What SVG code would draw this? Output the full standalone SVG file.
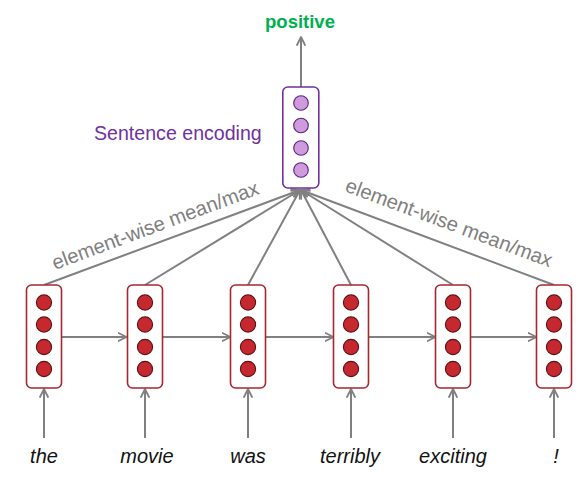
<svg xmlns="http://www.w3.org/2000/svg" width="588" height="484" viewBox="0 0 588 484">
<defs>
<marker id="ah" viewBox="0 0 10 10" refX="9" refY="5" markerWidth="10" markerHeight="10" markerUnits="userSpaceOnUse" orient="auto">
<path d="M1,1 L9,5 L1,9" fill="none" stroke="#808080" stroke-width="1.8" stroke-linecap="round" stroke-linejoin="round"/>
</marker>
<style>
.w{fill:none;stroke:#808080;stroke-width:2;}
.rb{fill:#fff;stroke:#A8262F;stroke-width:1.6;}
.rc{fill:#C6282F;stroke:#5E1014;stroke-width:1.1;}
.pb{fill:#fff;stroke:#7030A0;stroke-width:1.6;}
.pc{fill:#CF9BDC;stroke:#5A2580;stroke-width:1.1;}
.word{font-family:"Liberation Sans",Arial,sans-serif;font-style:italic;font-size:20px;fill:#111;text-anchor:middle;}
.lbl{font-family:"Liberation Sans",Arial,sans-serif;font-size:20.3px;fill:#808080;}
</style>
</defs>
<rect width="588" height="484" fill="#fff"/>
<g id="connectors">
<line class="w" x1="301" y1="87" x2="301" y2="37" marker-end="url(#ah)"/>
<line class="w" x1="44" y1="285" x2="300" y2="190" marker-end="url(#ah)"/>
<line class="w" x1="145" y1="285" x2="300" y2="190" marker-end="url(#ah)"/>
<line class="w" x1="248" y1="285" x2="300" y2="190" marker-end="url(#ah)"/>
<line class="w" x1="351" y1="285" x2="301" y2="190" marker-end="url(#ah)"/>
<line class="w" x1="453" y1="285" x2="301" y2="190" marker-end="url(#ah)"/>
<line class="w" x1="554" y1="285" x2="301" y2="190" marker-end="url(#ah)"/>
<line class="w" x1="61.5" y1="337" x2="126.5" y2="337" marker-end="url(#ah)"/>
<line class="w" x1="162.5" y1="337" x2="230.5" y2="337" marker-end="url(#ah)"/>
<line class="w" x1="265.5" y1="337" x2="333.5" y2="337" marker-end="url(#ah)"/>
<line class="w" x1="368.5" y1="337" x2="435.5" y2="337" marker-end="url(#ah)"/>
<line class="w" x1="470.5" y1="337" x2="536.5" y2="337" marker-end="url(#ah)"/>
<line class="w" x1="44" y1="438" x2="44" y2="389" marker-end="url(#ah)"/>
<line class="w" x1="145" y1="438" x2="145" y2="389" marker-end="url(#ah)"/>
<line class="w" x1="248" y1="438" x2="248" y2="389" marker-end="url(#ah)"/>
<line class="w" x1="351" y1="438" x2="351" y2="389" marker-end="url(#ah)"/>
<line class="w" x1="453" y1="438" x2="453" y2="389" marker-end="url(#ah)"/>
<line class="w" x1="554" y1="438" x2="554" y2="389" marker-end="url(#ah)"/>
</g>
<g id="labels">
<text x="300" y="28" font-family="Liberation Sans,Arial,sans-serif" font-weight="bold" font-size="18.5" fill="#00B050" text-anchor="middle">positive</text>
<text x="94" y="140" font-family="Liberation Sans,Arial,sans-serif" font-size="19.6" fill="#7030A0">Sentence encoding</text>
<text class="lbl" transform="translate(55,270) rotate(-20.4)" textLength="219">element-wise mean/max</text>
<text class="lbl" transform="translate(344,191) rotate(20.4)" textLength="219">element-wise mean/max</text>
</g>
<g id="sentence-encoding">
<rect class="pb" x="282.8" y="87" width="36" height="101" rx="5"/>
<circle class="pc" cx="301" cy="103" r="7.3"/>
<circle class="pc" cx="301" cy="125.5" r="7.3"/>
<circle class="pc" cx="301" cy="148" r="7.3"/>
<circle class="pc" cx="301" cy="170" r="7.3"/>
</g>
<g id="node-the">
<rect class="rb" x="26.5" y="285" width="35" height="103" rx="5"/>
<circle class="rc" cx="44" cy="302.5" r="7.6"/><circle class="rc" cx="44" cy="324.5" r="7.6"/><circle class="rc" cx="44" cy="347" r="7.6"/><circle class="rc" cx="44" cy="369" r="7.6"/>
<text class="word" x="44" y="463">the</text>
</g>
<g id="node-movie">
<rect class="rb" x="127.5" y="285" width="35" height="103" rx="5"/>
<circle class="rc" cx="145" cy="302.5" r="7.6"/><circle class="rc" cx="145" cy="324.5" r="7.6"/><circle class="rc" cx="145" cy="347" r="7.6"/><circle class="rc" cx="145" cy="369" r="7.6"/>
<text class="word" x="147" y="463">movie</text>
</g>
<g id="node-was">
<rect class="rb" x="230.5" y="285" width="35" height="103" rx="5"/>
<circle class="rc" cx="248" cy="302.5" r="7.6"/><circle class="rc" cx="248" cy="324.5" r="7.6"/><circle class="rc" cx="248" cy="347" r="7.6"/><circle class="rc" cx="248" cy="369" r="7.6"/>
<text class="word" x="248" y="463">was</text>
</g>
<g id="node-terribly">
<rect class="rb" x="333.5" y="285" width="35" height="103" rx="5"/>
<circle class="rc" cx="351" cy="302.5" r="7.6"/><circle class="rc" cx="351" cy="324.5" r="7.6"/><circle class="rc" cx="351" cy="347" r="7.6"/><circle class="rc" cx="351" cy="369" r="7.6"/>
<text class="word" x="350" y="463">terribly</text>
</g>
<g id="node-exciting">
<rect class="rb" x="435.5" y="285" width="35" height="103" rx="5"/>
<circle class="rc" cx="453" cy="302.5" r="7.6"/><circle class="rc" cx="453" cy="324.5" r="7.6"/><circle class="rc" cx="453" cy="347" r="7.6"/><circle class="rc" cx="453" cy="369" r="7.6"/>
<text class="word" x="453" y="463">exciting</text>
</g>
<g id="node-excl">
<rect class="rb" x="536.5" y="285" width="35" height="103" rx="5"/>
<circle class="rc" cx="554" cy="302.5" r="7.6"/><circle class="rc" cx="554" cy="324.5" r="7.6"/><circle class="rc" cx="554" cy="347" r="7.6"/><circle class="rc" cx="554" cy="369" r="7.6"/>
<text class="word" x="556" y="463">!</text>
</g>
</svg>
